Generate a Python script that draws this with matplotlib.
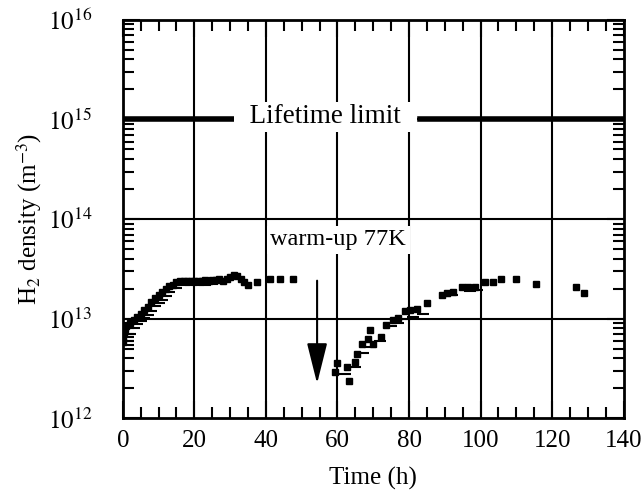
import matplotlib
matplotlib.use("Agg")
import matplotlib.pyplot as plt
from matplotlib.ticker import LogLocator, MultipleLocator, NullFormatter

plt.rcParams['font.family'] = ['Liberation Serif', 'DejaVu Serif']
plt.rcParams['mathtext.fontset'] = 'stix'

# squares: time (h) and H2 density (m^-3)
t_sq = [0, 0, 0.3, 0.6, 1, 2, 3, 4, 5, 6, 7, 8, 9, 10, 11, 12, 13, 14, 15, 16,
        17, 18, 19, 20, 21, 22, 23, 24, 25, 26, 27, 28, 29, 30, 31, 32, 33, 34,
        35, 37.5, 41, 44, 47.5,
        59.3, 59.8, 62.6, 63.3, 64.9, 65.4, 66.8, 68.6, 69.1, 70, 72.3, 73.7,
        75.6, 77, 78.9, 80.2, 82.1, 84.9, 89.1, 90.5, 92.4, 94.7, 96.5, 98.4,
        101.2, 103.5, 105.6, 110, 115.4, 126.8, 128.8]
n_sq = [0.59e13, 0.66e13, 0.72e13, 0.79e13, 0.85e13, 0.91e13, 0.98e13, 1.05e13,
        1.12e13, 1.23e13, 1.32e13, 1.48e13, 1.62e13, 1.74e13, 1.86e13, 2.0e13,
        2.14e13, 2.19e13, 2.34e13, 2.4e13, 2.4e13, 2.38e13, 2.4e13, 2.42e13,
        2.4e13, 2.42e13, 2.45e13, 2.42e13, 2.45e13, 2.45e13, 2.5e13, 2.4e13,
        2.5e13, 2.63e13, 2.75e13, 2.69e13, 2.5e13, 2.34e13, 2.19e13, 2.34e13,
        2.5e13, 2.5e13, 2.5e13,
        2.95e12, 3.6e12, 3.3e12, 2.4e12, 3.7e12, 4.4e12, 5.6e12, 6.2e12, 7.8e12,
        5.6e12, 6.6e12, 8.7e12, 0.98e13, 1.02e13, 1.2e13, 1.23e13, 1.26e13,
        1.45e13, 1.74e13, 1.82e13, 1.86e13, 2.09e13, 2.09e13, 2.09e13, 2.34e13,
        2.34e13, 2.5e13, 2.5e13, 2.24e13, 2.1e13, 1.8e13]

# second set drawn as short dashes
t_ds = [1.5, 1.5, 1.5, 2, 3, 4, 5, 6, 7, 8, 9, 10, 11, 12, 13, 15, 17, 19, 21,
        23, 25, 27, 62, 65, 67, 69, 72, 75, 77, 79, 81, 84, 90, 92, 97, 99]
n_ds = [0.55e13, 0.6e13, 0.65e13, 0.7e13, 0.8e13, 0.88e13, 0.95e13, 1.02e13,
        1.1e13, 1.2e13, 1.35e13, 1.45e13, 1.55e13, 1.7e13, 1.85e13, 2.05e13,
        2.2e13, 2.2e13, 2.2e13, 2.2e13, 2.25e13, 2.3e13, 2.8e12, 3.3e12,
        4.5e12, 5.2e12, 6.0e12, 8.5e12, 0.9e13, 1.0e13, 1.05e13, 1.12e13,
        1.7e13, 1.75e13, 1.9e13, 1.95e13]

lifetime_limit = 1e15

fig = plt.figure(figsize=(6.43, 4.94), dpi=100)
ax = fig.add_axes([0.191, 0.153, 0.779, 0.807])

ax.set_xlim(0, 140)
ax.set_yscale('log')
ax.set_ylim(1e12, 1e16)

# grid
for x in [20, 40, 60, 80, 100, 120]:
    ax.axvline(x, color='black', lw=1.5, zorder=1)
for y in [1e13, 1e14, 1e15]:
    ax.axhline(y, color='black', lw=1.5, zorder=1)

# lifetime limit line, broken by the label
ax.plot([0, 30.4], [lifetime_limit, lifetime_limit], color='black', lw=4, zorder=2)
ax.plot([83, 140], [lifetime_limit, lifetime_limit], color='black', lw=4, zorder=2)
ax.text(56.6, 1.06e15, '\u2002Lifetime limit\u2002', fontsize=19.5,
        ha='center', va='center',
        bbox=dict(boxstyle='square,pad=0.08', fc='white', ec='none'), zorder=3)

ax.text(60.2, 6.2e13, 'warm-up 77K', fontsize=17.5, ha='center', va='center',
        bbox=dict(boxstyle='square,pad=0.15', fc='white', ec='none'), zorder=3)
ax.annotate('', xy=(54.3, 2.1e12), xytext=(54.3, 2.57e13),
            arrowprops=dict(arrowstyle='-|>,head_length=1.4,head_width=0.35',
                            color='black', lw=1.5, mutation_scale=18),
            zorder=4)

ax.plot(t_ds, n_ds, linestyle='none', marker='_', markersize=9,
        markeredgewidth=1.5, color='black', zorder=4)
ax.plot(t_sq, n_sq, linestyle='none', marker='s', markersize=5,
        color='black', zorder=5)

ax.xaxis.set_major_locator(MultipleLocator(20))
ax.xaxis.set_minor_locator(MultipleLocator(5))
ax.yaxis.set_minor_locator(LogLocator(base=10, subs=range(2, 10), numticks=20))
ax.yaxis.set_minor_formatter(NullFormatter())
ax.set_yticks([1e12, 1e13, 1e14, 1e15, 1e16])
ax.set_yticklabels([r'$10^{12}$', r'$10^{13}$', r'$10^{14}$', r'$10^{15}$', r'$10^{16}$'])

ax.tick_params(which='both', direction='in', top=True, right=True,
               labelsize=18, width=1.5, color='black')
ax.tick_params(which='major', length=12)
ax.tick_params(which='minor', length=8)
ax.tick_params(axis='x', which='major', pad=8)
ax.tick_params(axis='y', which='major', pad=22)
for s in ax.spines.values():
    s.set_linewidth(2)

ax.set_xlabel('Time (h)', fontsize=18, labelpad=11)
ax.set_ylabel(r'H$_2$ density (m$^{-3}$)', fontsize=18, labelpad=3)

fig.savefig('out.png', dpi=100)
